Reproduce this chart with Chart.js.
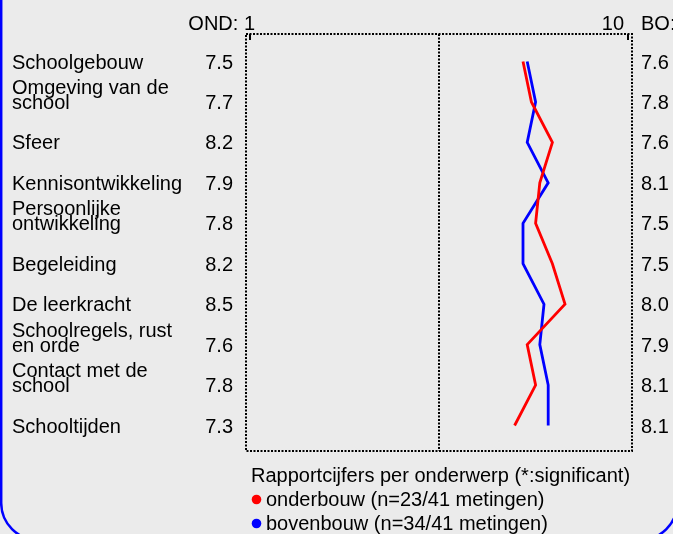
<!DOCTYPE html>
<html>
<head>
<meta charset="utf-8">
<script src="https://cdn.jsdelivr.net/npm/chart.js@4"></script>
<style>
  html, body { margin: 0; padding: 0; background: #ebebeb; }
  canvas { display: block; }
</style>
</head>
<body>
<canvas id="rapportChart" width="673" height="534"></canvas>
<script>
const topics = [
  'Schoolgebouw',
  ['Omgeving van de', 'school'],
  'Sfeer',
  'Kennisontwikkeling',
  ['Persoonlijke', 'ontwikkeling'],
  'Begeleiding',
  'De leerkracht',
  ['Schoolregels, rust', 'en orde'],
  ['Contact met de', 'school'],
  'Schooltijden'
];
const onderbouw = [7.5, 7.7, 8.2, 7.9, 7.8, 8.2, 8.5, 7.6, 7.8, 7.3];
const bovenbouw = [7.6, 7.8, 7.6, 8.1, 7.5, 7.5, 8.0, 7.9, 8.1, 8.1];
const scaleMin = 1;
const scaleMax = 10;
const title = 'Rapportcijfers per onderwerp (*:significant)';
const legendItems = [
  { text: 'onderbouw (n=23/41 metingen)', color: '#ff0000' },
  { text: 'bovenbouw (n=34/41 metingen)', color: '#0000ff' }
];

const FONT = '20px "Liberation Sans", Arial, sans-serif';

// grey panel with the blue rounded frame
const panel = {
  id: 'panel',
  beforeDraw(chart) {
    const ctx = chart.ctx;
    ctx.save();
    ctx.fillStyle = '#ebebeb';
    ctx.fillRect(0, 0, chart.width, chart.height);
    ctx.strokeStyle = '#0000ff';
    ctx.lineWidth = 2.5;
    ctx.beginPath();
    ctx.roundRect(1.2, -40, 676, 580, [0, 0, 37, 37]);
    ctx.stroke();
    ctx.restore();
  }
};

// dotted box round the plot plus the middle line
const frame = {
  id: 'frame',
  beforeDatasetsDraw(chart) {
    const { ctx, chartArea } = chart;
    const x = chart.scales.x;
    const left = x.getPixelForValue(scaleMin) - 4;
    const right = x.getPixelForValue(scaleMax) + 4;
    const mid = x.getPixelForValue((scaleMin + scaleMax) / 2);
    const top = chartArea.top;
    const bottom = chartArea.bottom;
    ctx.save();
    ctx.strokeStyle = '#000';
    ctx.lineWidth = 2;
    ctx.setLineDash([2, 1.5]);
    ctx.beginPath();
    ctx.moveTo(left, top); ctx.lineTo(right, top);
    ctx.lineTo(right, bottom); ctx.lineTo(left, bottom);
    ctx.closePath();
    ctx.moveTo(mid, top); ctx.lineTo(mid, bottom);
    ctx.stroke();
    // short ticks at 1 and 10
    ctx.setLineDash([]);
    ctx.beginPath();
    [scaleMin, scaleMax].forEach(v => {
      const px = x.getPixelForValue(v);
      ctx.moveTo(px, top); ctx.lineTo(px, top + 6);
    });
    ctx.stroke();
    ctx.restore();
  }
};

// topic names, score columns, axis ends and the legend
const labels = {
  id: 'labels',
  afterDraw(chart) {
    const { ctx, chartArea } = chart;
    const x = chart.scales.x;
    const y = chart.scales.y;
    ctx.save();
    ctx.font = FONT;
    ctx.fillStyle = '#000';
    ctx.textBaseline = 'alphabetic';

    topics.forEach((t, i) => {
      const py = y.getPixelForValue(i) + 7;
      const lines = Array.isArray(t) ? t : [t];
      ctx.textAlign = 'left';
      lines.forEach((line, j) => {
        ctx.fillText(line, 12, py - (lines.length - 1 - j) * 15);
      });
      ctx.textAlign = 'right';
      ctx.fillText(onderbouw[i].toFixed(1), 233, py);
      ctx.textAlign = 'left';
      ctx.fillText(bovenbouw[i].toFixed(1), 641, py);
    });

    const axisY = chartArea.top - 4;
    ctx.textAlign = 'right';
    ctx.fillText('OND: ' + scaleMin, x.getPixelForValue(scaleMin) + 5, axisY);
    ctx.fillText(String(scaleMax), x.getPixelForValue(scaleMax) - 4, axisY);
    ctx.textAlign = 'left';
    ctx.fillText('BO:', 641, axisY);

    ctx.fillText(title, 251, 482);
    legendItems.forEach((item, i) => {
      const ly = 506 + i * 24;
      ctx.fillStyle = item.color;
      ctx.beginPath();
      ctx.arc(256.5, ly - 6.5, 4.8, 0, Math.PI * 2);
      ctx.fill();
      ctx.fillStyle = '#000';
      ctx.fillText(item.text, 266, ly);
    });
    ctx.restore();
  }
};

const toPoints = values => values.map((v, i) => ({ x: v, y: i }));

new Chart(document.getElementById('rapportChart'), {
  type: 'line',
  data: {
    datasets: [
      {
        label: 'onderbouw',
        data: toPoints(onderbouw),
        borderColor: '#ff0000',
        borderWidth: 2.8,
        pointRadius: 0,
        tension: 0
      },
      {
        label: 'bovenbouw',
        data: toPoints(bovenbouw),
        borderColor: '#0000ff',
        borderWidth: 2.8,
        pointRadius: 0,
        tension: 0
      }
    ]
  },
  options: {
    responsive: false,
    animation: false,
    layout: { padding: { left: 250, right: 45, top: 34, bottom: 83 } },
    plugins: {
      legend: { display: false },
      tooltip: { enabled: false }
    },
    scales: {
      x: { type: 'linear', min: scaleMin, max: scaleMax, display: false },
      y: { type: 'linear', min: -0.68, max: 9.63, reverse: true, display: false }
    }
  },
  plugins: [panel, frame, labels]
});
</script>
</body>
</html>
